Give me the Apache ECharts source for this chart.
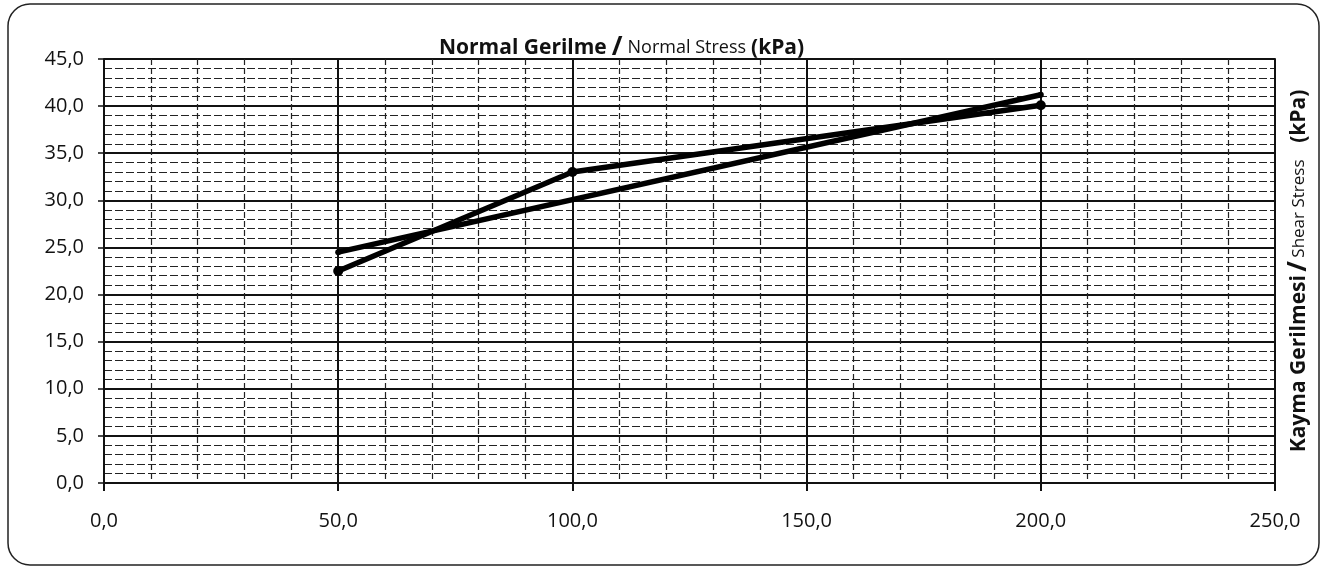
<!DOCTYPE html>
<html>
<head>
<meta charset="utf-8">
<script src="https://cdn.jsdelivr.net/npm/echarts@6/dist/echarts.min.js"></script>
<style>
  html, body { margin: 0; padding: 0; background: #fff; }
  #chart { width: 1325px; height: 569px; }
</style>
</head>
<body>
<div id="chart"></div>
<script>
  // deney noktaları (normal gerilme / kayma gerilmesi)
  const normalStress = [50, 100, 200]
  const shearStress = [22.5, 33.0, 40.1]
  // doğru (fit) çizgisi
  const fitX = [50, 200]
  const fitY = [24.5, 41.2]

  const fmt = (v) => v.toFixed(1).replace('.', ',')
  const font = '"Open Sans", "Noto Sans", sans-serif'

  const chart = echarts.init(document.getElementById('chart'))

  const option = {
    backgroundColor: '#fff',
    animation: false,
    title: {
      text: '{b|Normal Gerilme} {sl|/} {r|Normal Stress} {b|(kPa)}',
      left: 434,
      top: 30,
      textStyle: {
        rich: {
          b: { fontFamily: font, fontWeight: 'bold', fontSize: 21, color: '#111' },
          sl: { fontFamily: font, fontWeight: 'bold', fontSize: 26, color: '#111' },
          r: { fontFamily: font, fontWeight: 'normal', fontSize: 18, color: '#111' }
        }
      }
    },
    grid: { left: 104, right: 50, top: 59, bottom: 86 },
    xAxis: {
      type: 'value',
      min: 0,
      max: 250,
      interval: 50,
      axisLine: { lineStyle: { color: '#111', width: 2 } },
      axisTick: { show: true, length: 8, lineStyle: { color: '#111', width: 2 } },
      axisLabel: { formatter: fmt, margin: 28, fontSize: 20, fontFamily: font, color: '#111' },
      splitLine: { lineStyle: { color: '#111', width: 2 } },
      minorTick: { show: false, splitNumber: 5 },
      minorSplitLine: { show: true, lineStyle: { color: '#222', width: 1.2, type: [6, 3] } }
    },
    yAxis: [
      {
        type: 'value',
        min: 0,
        max: 45,
        interval: 5,
        axisLine: { show: true, lineStyle: { color: '#111', width: 2 } },
        axisTick: { show: true, length: 6, lineStyle: { color: '#111', width: 1.5 } },
        axisLabel: { formatter: fmt, margin: 20, fontSize: 20, fontFamily: font, color: '#111' },
        splitLine: { lineStyle: { color: '#111', width: 2 } },
        minorTick: { show: false, splitNumber: 5 },
        minorSplitLine: { show: true, lineStyle: { color: '#222', width: 1.2, type: [8, 3] } }
      },
      {
        // sadece sağ taraftaki eksen adı için
        type: 'value',
        position: 'right',
        min: 0,
        max: 45,
        axisLine: { show: true, lineStyle: { color: '#111', width: 2 } },
        axisTick: { show: false },
        axisLabel: { show: false },
        splitLine: { show: false },
        name: '{b|Kayma Gerilmesi} {sl|/} {r|Shear Stress}     {b|(kPa)}',
        nameLocation: 'middle',
        nameRotate: 90,
        nameGap: 11,
        nameTextStyle: {
          rich: {
            b: { fontFamily: font, fontWeight: 'bold', fontSize: 21, color: '#111' },
            sl: { fontFamily: font, fontWeight: 'bold', fontSize: 26, color: '#111' },
            r: { fontFamily: font, fontWeight: 'normal', fontSize: 17, color: '#111' }
          }
        }
      }
    ],
    series: [
      {
        type: 'line',
        data: fitX.map((x, i) => [x, fitY[i]]),
        symbol: 'circle',
        symbolSize: 6,
        lineStyle: { color: '#000', width: 5.5 },
        itemStyle: { color: '#000' }
      },
      {
        type: 'line',
        data: normalStress.map((x, i) => [x, shearStress[i]]),
        symbol: 'circle',
        symbolSize: 10,
        lineStyle: { color: '#000', width: 5.5 },
        itemStyle: { color: '#000' },
        z: 3
      }
    ],
    graphic: [
      {
        type: 'rect',
        shape: { x: 8, y: 4, width: 1311, height: 561, r: 22 },
        style: { fill: 'none', stroke: '#222', lineWidth: 1.5 },
        silent: true
      }
    ]
  }

  chart.setOption(option)
</script>
</body>
</html>
